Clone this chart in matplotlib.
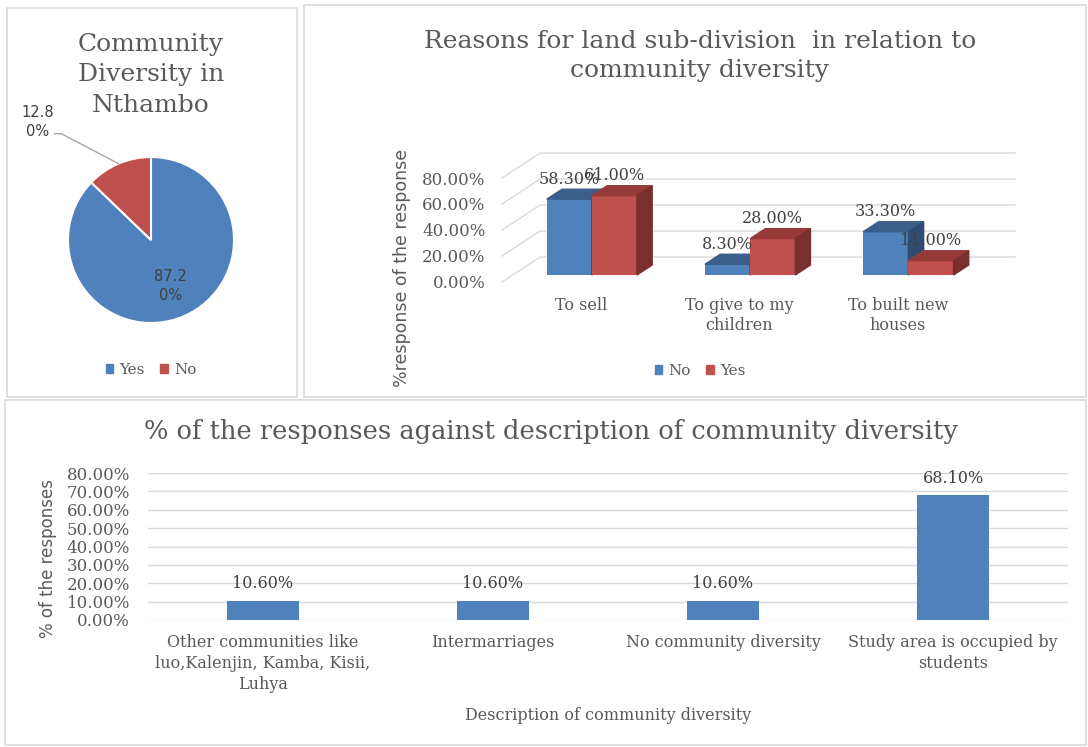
import numpy as np
import matplotlib
matplotlib.use("Agg")
import matplotlib.pyplot as plt
from matplotlib.patches import Rectangle, Polygon, Patch

plt.rcParams['font.family'] = ['DejaVu Serif']
TXT = '#595959'
GRID = '#d9d9d9'
BLUE = '#4f81bd'
RED = '#c0504d'

# data
pie_labels = ['Yes', 'No']
pie_vals = [87.2, 12.8]

reasons = ['To sell', 'To give to my\nchildren', 'To built new\nhouses']
reasons_no = [58.3, 8.3, 33.3]
reasons_yes = [61.0, 28.0, 11.0]
y3d_ticks = [0, 20, 40, 60, 80]

desc = ['Other communities like\nluo,Kalenjin, Kamba, Kisii,\nLuhya', 'Intermarriages',
        'No community diversity', 'Study area is occupied by\nstudents']
desc_vals = [10.6, 10.6, 10.6, 68.1]
desc_ticks = list(range(0, 81, 10))

W, H = 1088, 747
fig = plt.figure(figsize=(W / 100, H / 100), dpi=100)


def box(x0, y0, x1, y1):
    return [x0 / W, 1 - y1 / H, (x1 - x0) / W, (y1 - y0) / H]


def fxy(x, y):
    return x / W, 1 - y / H


# panel frames
for b in [(7, 8, 297, 397), (304, 5, 1086, 397), (5, 400, 1086, 745)]:
    x0, y0, w, h = box(*b)
    fig.add_artist(Rectangle((x0, y0), w, h, transform=fig.transFigure,
                             fill=False, ec=GRID, lw=1.2))

# ---- pie ----
ax1 = fig.add_axes(box(68, 157, 234, 323))
wedges, _ = ax1.pie(pie_vals, colors=[BLUE, RED], startangle=90, counterclock=False,
                    radius=1, wedgeprops=dict(edgecolor='white', linewidth=1.5))
ax1.set_xlim(-1, 1)
ax1.set_ylim(-1, 1)
w = wedges[0]
t = np.deg2rad((w.theta1 + w.theta2) / 2)
s = f"{pie_vals[0]:.2f}%"
ax1.text(0.6 * np.cos(t), 0.6 * np.sin(t), s[:4] + "\n" + s[4:], ha='center', va='center',
         fontsize=10.5, color='#404040', family='DejaVu Sans', linespacing=1.3)
w = wedges[1]
t = np.deg2rad((w.theta1 + w.theta2) / 2)
s = f"{pie_vals[1]:.2f}%"
ax1.text(-1.37, 1.42, s[:4] + "\n" + s[4:], ha='center', va='center',
         fontsize=10.5, color='#404040', family='DejaVu Sans', linespacing=1.3, clip_on=False)
ax1.plot([-1.16, -1.08, np.cos(t)], [1.28, 1.28, np.sin(t)], color='#a6a6a6', lw=1, clip_on=False)
fig.text(*fxy(151, 75), "Community\nDiversity in\nNthambo", ha='center', va='center',
         fontsize=18, color=TXT, linespacing=1.4)
fig.legend([Patch(color=BLUE), Patch(color=RED)], pie_labels, loc='center',
           bbox_to_anchor=fxy(151, 370), ncol=2, frameon=False, fontsize=11,
           handlelength=0.5, handleheight=0.5, handletextpad=0.4, columnspacing=1.0,
           labelcolor=TXT)

# ---- 3D-style clustered bars ----
DX, DY = 0.241, 19.2   # depth of the floor in data units
D0, DD = 0.28, 0.4     # bar position / depth as fraction of the floor depth
BW = 0.285
ax2 = fig.add_axes(box(502, 152, 1015, 282))
ax2.set_xlim(-0.5, 2.5 + DX)
ax2.set_ylim(0, 100)
for v in y3d_ticks:
    ax2.plot([-0.5, -0.5 + DX, 2.5 + DX], [v, v + DY, v + DY], color=GRID, lw=1,
             zorder=0, clip_on=False)
series = [(reasons_no, BLUE, '#3a5f8b', '#2f4d72'), (reasons_yes, RED, '#963a38', '#7a2f2d')]
x = np.arange(len(reasons))
for k, (vals, cf, ct, cs) in enumerate(series):
    x0 = x + D0 * DX - BW + k * BW
    yb = D0 * DY
    ax2.bar(x0, vals, width=BW, bottom=yb, align='edge', color=cf, zorder=2 + k)
    for xi, v in zip(x0, vals):
        yt = yb + v
        ax2.add_patch(Polygon([(xi, yt), (xi + BW, yt), (xi + BW + DD * DX, yt + DD * DY),
                               (xi + DD * DX, yt + DD * DY)], closed=True, color=ct, zorder=2 + k))
        ax2.add_patch(Polygon([(xi + BW, yb), (xi + BW, yt), (xi + BW + DD * DX, yt + DD * DY),
                               (xi + BW + DD * DX, yb + DD * DY)], closed=True, color=cs, zorder=2 + k))
        ax2.annotate(f"{v:.2f}%", (xi + BW / 2, yt + DD * DY), xytext=(0, 1),
                     textcoords='offset points', ha='center', va='bottom',
                     fontsize=11.5, color='#404040', zorder=5, annotation_clip=False)
ax2.set_yticks(y3d_ticks)
ax2.set_yticklabels([f"{v:.2f}%" for v in y3d_ticks])
ax2.set_xticks(x)
ax2.set_xticklabels(reasons)
ax2.tick_params(axis='y', length=0, pad=12, labelsize=12, labelcolor=TXT)
ax2.tick_params(axis='x', length=0, pad=11, labelsize=11.5, labelcolor=TXT)
for sp in ax2.spines.values():
    sp.set_visible(False)
fig.text(*fxy(700, 56), "Reasons for land sub-division  in relation to\ncommunity diversity",
         ha='center', va='center', fontsize=18, color=TXT, linespacing=1.35)
fig.text(*fxy(402, 268), "%response of the response", rotation=90, ha='center', va='center',
         fontsize=12.5, color=TXT, family='DejaVu Sans')
fig.legend([Patch(color=BLUE), Patch(color=RED)], ['No', 'Yes'], loc='center',
           bbox_to_anchor=fxy(700, 371), ncol=2, frameon=False, fontsize=11,
           handlelength=0.5, handleheight=0.5, handletextpad=0.4, columnspacing=1.0,
           labelcolor=TXT)

# ---- bottom bar chart ----
ax3 = fig.add_axes(box(148, 473, 1068, 620))
xb = np.arange(len(desc))
ax3.bar(xb, desc_vals, width=0.31, color=BLUE, zorder=2)
for xi, v in zip(xb, desc_vals):
    ax3.annotate(f"{v:.2f}%", (xi, v), xytext=(0, 6), textcoords='offset points',
                 ha='center', va='bottom', fontsize=11.5, color='#404040')
ax3.set_xlim(-0.5, 3.5)
ax3.set_ylim(0, 80)
ax3.set_yticks(desc_ticks)
ax3.set_yticklabels([f"{v:.2f}%" for v in desc_ticks])
ax3.set_xticks(xb)
ax3.set_xticklabels(desc, linespacing=1.3)
ax3.grid(axis='y', color=GRID, lw=1, zorder=0)
ax3.tick_params(axis='y', length=0, pad=13, labelsize=12, labelcolor=TXT)
ax3.tick_params(axis='x', length=0, pad=10, labelsize=11.5, labelcolor=TXT)
for sp in ax3.spines.values():
    sp.set_visible(False)
fig.text(*fxy(551, 432), "% of the responses against description of community diversity",
         ha='center', va='center', fontsize=18.5, color=TXT)
fig.text(*fxy(608, 715), "Description of community diversity", ha='center', va='center',
         fontsize=11.5, color=TXT)
fig.text(*fxy(48, 559), "% of the responses", rotation=90, ha='center', va='center',
         fontsize=12, color=TXT, family='DejaVu Sans')

fig.savefig('out.png', dpi=100, facecolor='white')
